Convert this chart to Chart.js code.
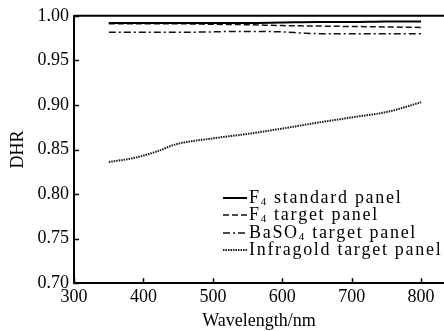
<!DOCTYPE html>
<html>
<head>
<meta charset="utf-8">
<script src="https://cdn.jsdelivr.net/npm/chart.js@4.4.1/dist/chart.umd.min.js"></script>
<style>
  html, body { margin: 0; padding: 0; background: #ffffff; }
  #wrap { width: 444px; height: 331px; position: relative; }
</style>
</head>
<body>
<div id="wrap"><canvas id="c" width="444" height="331"></canvas></div>
<script>
// ---- data ----
const wavelengths = [350, 400, 450, 500, 550, 600, 650, 700, 750, 800];
const f4Standard  = [0.992, 0.992, 0.992, 0.992, 0.992, 0.9925, 0.993, 0.993, 0.9935, 0.9935];
const f4Target    = [0.991, 0.991, 0.991, 0.9905, 0.990, 0.989, 0.9885, 0.988, 0.9875, 0.987];
const baso4Wl     = [350, 400, 450, 500, 535, 600, 631, 650, 700, 750, 800];
const baso4       = [0.9815, 0.9815, 0.9815, 0.982, 0.9825, 0.982, 0.9805, 0.980, 0.980, 0.980, 0.980];
const infragoldWl = [350, 385, 420, 445, 500, 550, 600, 650, 700, 750, 770, 800];
const infragold   = [0.836, 0.8403, 0.848, 0.8555, 0.8625, 0.8675, 0.8735, 0.880, 0.886, 0.892, 0.896, 0.903];
const xTicks = [300, 400, 500, 600, 700, 800];
const yTicks = [0.70, 0.75, 0.80, 0.85, 0.90, 0.95, 1.00];
const seriesLabels = ['F₄ standard panel', 'F₄ target panel', 'BaSO₄ target panel', 'Infragold target panel'];
const xTitle = 'Wavelength/nm';
const yTitle = 'DHR';

const pts = (xs, ys) => xs.map((x, i) => ({ x: x, y: ys[i] }));
const SERIF = '"Liberation Serif", "DejaVu Serif", serif';

const frameAndTicks = {
  id: 'frameAndTicks',
  afterDraw(chart) {
    const { ctx, chartArea: a, scales } = chart;
    ctx.save();
    ctx.strokeStyle = '#000';
    ctx.lineWidth = 2;
    ctx.beginPath();
    ctx.moveTo(a.left, a.top);
    ctx.lineTo(a.right, a.top);
    ctx.stroke();
    ctx.lineWidth = 1.5;
    scales.y.ticks.forEach(t => {
      const y = Math.round(scales.y.getPixelForValue(t.value)) + 0.5;
      ctx.beginPath(); ctx.moveTo(a.left, y); ctx.lineTo(a.left + 5, y); ctx.stroke();
    });
    scales.x.ticks.forEach(t => {
      const x = Math.round(scales.x.getPixelForValue(t.value)) + 0.5;
      ctx.beginPath(); ctx.moveTo(x, a.bottom); ctx.lineTo(x, a.bottom - 5); ctx.stroke();
    });
    ctx.restore();
  }
};

const customLegend = {
  id: 'customLegend',
  afterDraw(chart) {
    const ctx = chart.ctx;
    const x0 = 223, x1 = 247, tx = 249;
    const rows = [198, 215, 233, 250];
    ctx.save();
    chart.data.datasets.forEach((ds, i) => {
      const y = rows[i];
      ctx.strokeStyle = ds.borderColor;
      ctx.lineWidth = ds.borderWidth;
      ctx.setLineDash(ds.borderDash || []);
      ctx.beginPath(); ctx.moveTo(x0, y); ctx.lineTo(x1, y); ctx.stroke();
      ctx.setLineDash([]);
      ctx.fillStyle = '#000';
      ctx.textBaseline = 'middle';
      ctx.letterSpacing = '1.7px';
      let x = tx;
      for (const ch of ds.label) {
        const code = ch.codePointAt(0);
        if (code >= 0x2080 && code <= 0x2089) {
          ctx.font = '11px ' + SERIF;
          const s = String(code - 0x2080);
          ctx.fillText(s, x, y + 4);
          x += ctx.measureText(s).width;
        } else {
          ctx.font = '18px ' + SERIF;
          ctx.fillText(ch, x, y);
          x += ctx.measureText(ch).width;
        }
      }
    });
    ctx.restore();
  }
};

new Chart(document.getElementById('c'), {
  type: 'line',
  data: {
    datasets: [
      { label: seriesLabels[0], data: pts(wavelengths, f4Standard), borderColor: '#000', borderWidth: 2, borderDash: [] },
      { label: seriesLabels[1], data: pts(wavelengths, f4Target), borderColor: '#111', borderWidth: 1.5, borderDash: [6, 3] },
      { label: seriesLabels[2], data: pts(baso4Wl, baso4), borderColor: '#111', borderWidth: 1.5, borderDash: [7, 3, 2, 3] },
      { label: seriesLabels[3], data: pts(infragoldWl, infragold), borderColor: '#1a1a1a', borderWidth: 2, borderDash: [1.5, 1] }
    ]
  },
  options: {
    responsive: false,
    animation: false,
    devicePixelRatio: 1,
    layout: { padding: { top: 10, right: 0, left: 7, bottom: 0 } },
    elements: { point: { radius: 0 }, line: { tension: 0, cubicInterpolationMode: 'monotone', fill: false } },
    plugins: { legend: { display: false }, tooltip: { enabled: false } },
    scales: {
      x: {
        type: 'linear', min: 300, max: 833,
        afterBuildTicks: s => { s.ticks = xTicks.map(v => ({ value: v })); },
        grid: { display: false, drawTicks: false },
        border: { display: true, color: '#000', width: 2 },
        ticks: { color: '#000', font: { family: SERIF, size: 18, lineHeight: 1.0 }, padding: 5, maxRotation: 0, autoSkip: false },
        title: { display: true, text: xTitle, color: '#000', font: { family: SERIF, size: 18, lineHeight: 1.1 }, padding: { top: 0, bottom: 0 } }
      },
      y: {
        type: 'linear', min: 0.70, max: 1.00,
        afterBuildTicks: s => { s.ticks = yTicks.map(v => ({ value: v })); },
        grid: { display: false, drawTicks: false },
        border: { display: true, color: '#000', width: 2 },
        ticks: { color: '#000', font: { family: SERIF, size: 18 }, padding: 5, callback: v => v.toFixed(2) },
        title: { display: true, text: yTitle, color: '#000', font: { family: SERIF, size: 18 }, padding: { top: 0, bottom: 4 } }
      }
    }
  },
  plugins: [frameAndTicks, customLegend]
});
</script>
</body>
</html>
